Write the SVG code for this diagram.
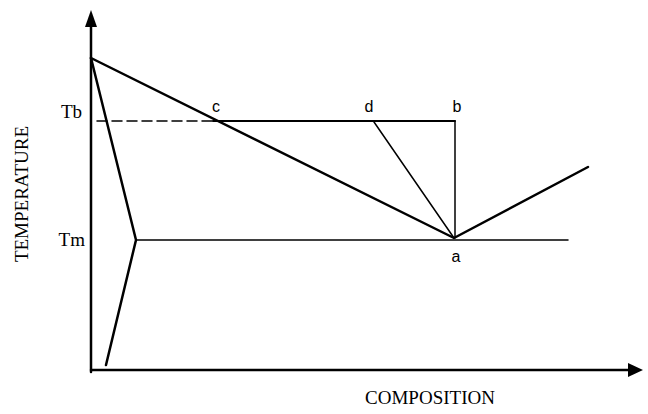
<svg xmlns="http://www.w3.org/2000/svg" width="648" height="414" viewBox="0 0 648 414">
<style>
.ln{stroke:#000;fill:none;stroke-linecap:round;stroke-linejoin:round}
.thick{stroke-width:2.5}
.thin{stroke-width:1.5}
.serif{font-family:"Liberation Serif","Times New Roman",serif;font-size:19px;fill:#000}
.sans{font-family:"Liberation Sans",Arial,sans-serif;font-size:16px;fill:#000}
</style>
<rect width="648" height="414" fill="#fff"/>
<g id="axes">
<line class="ln thick" x1="91" y1="372" x2="91" y2="24"/>
<polygon points="91,10 85,27 97,27" fill="#000"/>
<line class="ln thick" x1="91" y1="370" x2="630" y2="370"/>
<polygon points="643,370 628,363 628,377" fill="#000"/>
</g>
<g id="connectors">
<polyline class="ln thick" points="91,58 454,238 588,167"/>
<polyline class="ln thick" points="91,58 136,240 106,365"/>
<line class="ln thin" x1="136" y1="240" x2="568" y2="240"/>
<line class="ln thin" x1="97" y1="121" x2="213" y2="121" stroke-dasharray="10 5" stroke-linecap="butt"/>
<line class="ln" stroke-width="2" x1="213" y1="121" x2="455" y2="121"/>
<line class="ln thin" x1="455" y1="121" x2="455" y2="238"/>
<line class="ln thin" x1="374" y1="122" x2="454" y2="238"/>
</g>
<g id="labels">
<text class="sans" x="216" y="112" text-anchor="middle">c</text>
<text class="sans" x="369" y="112" text-anchor="middle">d</text>
<text class="sans" x="457" y="112" text-anchor="middle">b</text>
<text class="sans" x="456" y="262" text-anchor="middle">a</text>
<text class="serif" x="82" y="118" text-anchor="end">Tb</text>
<text class="serif" x="85" y="246" text-anchor="end">Tm</text>
<text class="serif" x="0" y="0" text-anchor="middle" transform="translate(28,194) rotate(-90)">TEMPERATURE</text>
<text class="serif" x="430" y="404" text-anchor="middle">COMPOSITION</text>
</g>
</svg>
